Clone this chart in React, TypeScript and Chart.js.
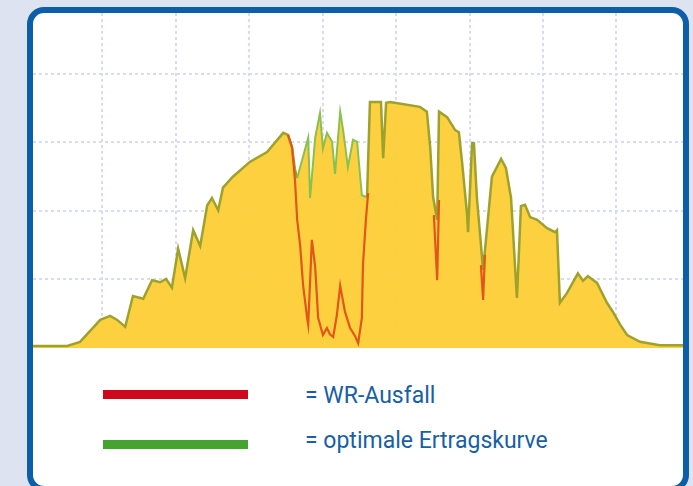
import React, { useEffect, useRef } from "react";
import { Chart, registerables } from "chart.js";

Chart.register(...registerables);

// x: hour of day, y: power in kW
const xGridHours = [6, 8, 10, 12, 14, 16, 18, 20];
const yGridKw = [1, 2, 3, 4];

const optimalCurve: [number, number][] = [
  [4.12, 0.03], [5.05, 0.03], [5.40, 0.09], [5.95, 0.41], [6.22, 0.47], [6.41, 0.41],
  [6.63, 0.31], [6.84, 0.76], [7.12, 0.72], [7.36, 0.99], [7.58, 0.96], [7.74, 1.01],
  [7.90, 0.88], [8.07, 1.45], [8.26, 1.02], [8.48, 1.72], [8.67, 1.49], [8.86, 2.08],
  [8.99, 2.19], [9.16, 2.01], [9.29, 2.34], [9.56, 2.50], [10.03, 2.72], [10.49, 2.86],
  [10.93, 3.14], [11.06, 3.11], [11.17, 2.93], [11.25, 2.60], [11.31, 2.48], [11.61, 3.07],
  [11.66, 2.19], [11.80, 3.07], [11.93, 3.43], [12.01, 2.91], [12.12, 3.14], [12.26, 3.01],
  [12.34, 2.54], [12.48, 3.45], [12.56, 3.18], [12.69, 2.64], [12.83, 3.04], [12.94, 3.01],
  [13.07, 2.23], [13.21, 2.20], [13.29, 3.59], [13.59, 3.59], [13.65, 2.77], [13.73, 3.58],
  [13.84, 3.59], [14.65, 3.52], [14.84, 3.45], [14.93, 2.93], [15.01, 2.20], [15.12, 1.87],
  [15.17, 3.45], [15.39, 3.37], [15.61, 3.18], [15.71, 3.15], [15.80, 2.70], [15.93, 1.97],
  [15.96, 1.69], [16.07, 2.99], [16.12, 2.99], [16.20, 2.20], [16.37, 1.14], [16.61, 2.50],
  [16.86, 2.76], [16.99, 2.63], [17.13, 2.19], [17.29, 0.73], [17.40, 2.07], [17.51, 2.09],
  [17.65, 1.91], [17.84, 1.87], [18.11, 1.75], [18.33, 1.69], [18.38, 1.72], [18.46, 0.66],
  [18.65, 0.80], [18.95, 1.09], [19.09, 0.98], [19.22, 1.05], [19.47, 0.95], [19.74, 0.66],
  [19.90, 0.53], [20.10, 0.34], [20.29, 0.19], [20.64, 0.09], [21.18, 0.04], [21.81, 0.04],
];

// actual yield during inverter failure (null = gap)
const failureCurve: [number, number | null][] = [
  [11.06, 3.11], [11.17, 2.93], [11.25, 2.45], [11.31, 1.87], [11.39, 1.50], [11.47, 0.92],
  [11.58, 0.44], [11.61, 0.34], [11.71, 1.58], [11.80, 1.18], [11.88, 0.44], [12.01, 0.19],
  [12.12, 0.29], [12.20, 0.20], [12.29, 0.16], [12.39, 0.48], [12.48, 0.91], [12.61, 0.53],
  [12.75, 0.29], [12.88, 0.18], [12.97, 0.07], [13.07, 0.44], [13.10, 1.21], [13.18, 1.87],
  [13.24, 2.26],
  [14.5, null],
  [15.03, 1.94], [15.12, 0.99], [15.17, 2.16],
  [16.0, null],
  [16.31, 1.21], [16.37, 0.70], [16.42, 1.36],
];

const outageStart = 11.3;
const outageEnd = 13.22;

const legendLabels = ["= WR-Ausfall", "= optimale Ertragskurve"];
const legendColors = ["#d0081d", "#47a32f"];

const OLIVE = "#9ea22b";
const LIGHT_GREEN = "#8cc04c";
const FILL = "rgba(253, 206, 54, 0.95)";
const RED = "#e2561a";
const GRID = "#d9dcf0";

const inOutage = (ctx: any) =>
  ctx.p0.parsed.x >= outageStart && ctx.p1.parsed.x <= outageEnd;

export default function App() {
  const canvasRef = useRef<HTMLCanvasElement | null>(null);

  useEffect(() => {
    const canvas = canvasRef.current;
    if (!canvas) return;
    const optimalPoints = optimalCurve.map(([x, y]) => ({ x, y }));
    const chart = new Chart(canvas, {
      type: "line",
      data: {
        datasets: [
          {
            label: "WR-Ausfall",
            data: failureCurve.map(([x, y]) => ({ x, y })),
            borderColor: RED,
            borderWidth: 2.2,
            pointRadius: 0,
            fill: false,
            spanGaps: false,
            tension: 0,
          },
          {
            label: "optimale Ertragskurve",
            data: optimalPoints,
            borderColor: OLIVE,
            borderWidth: 2.5,
            pointRadius: 0,
            fill: false,
            tension: 0,
            segment: {
              borderColor: (ctx: any) => (inOutage(ctx) ? LIGHT_GREEN : OLIVE),
              borderWidth: (ctx: any) => (inOutage(ctx) ? 2 : 2.5),
            },
          },
          {
            label: "Ertrag",
            data: optimalPoints,
            borderWidth: 0,
            borderColor: "rgba(0,0,0,0)",
            backgroundColor: FILL,
            pointRadius: 0,
            fill: "origin",
            tension: 0,
          },
        ],
      },
      options: {
        animation: false,
        responsive: false,
        maintainAspectRatio: false,
        layout: { padding: 0 },
        plugins: {
          legend: { display: false },
          tooltip: { enabled: false },
        },
        scales: {
          x: {
            type: "linear",
            min: 4.12,
            max: 21.81,
            afterBuildTicks: (scale: any) => {
              scale.ticks = xGridHours.map((v) => ({ value: v }));
            },
            ticks: { display: false },
            border: { display: false, dash: [3, 3] },
            grid: { color: GRID, lineWidth: 2, drawTicks: false },
          },
          y: {
            type: "linear",
            min: 0,
            max: 4.89,
            afterBuildTicks: (scale: any) => {
              scale.ticks = yGridKw.map((v) => ({ value: v }));
            },
            ticks: { display: false },
            border: { display: false, dash: [3, 3] },
            grid: { color: GRID, lineWidth: 2, drawTicks: false },
          },
        },
      },
    } as any);
    return () => chart.destroy();
  }, []);

  return (
    <div
      style={{
        position: "fixed",
        left: 0,
        top: 0,
        width: 693,
        height: 486,
        background: "#dde3f0",
        overflow: "hidden",
      }}
    >
      <div
        style={{
          position: "absolute",
          left: 27,
          top: 7,
          width: 662,
          height: 485,
          boxSizing: "border-box",
          border: "6px solid #0d5ea9",
          borderRadius: 17,
          background: "#ffffff",
          overflow: "hidden",
        }}
      >
        <canvas
          ref={canvasRef}
          width={650}
          height={335}
          style={{ position: "absolute", left: 0, top: 0, width: 650, height: 335 }}
        />
      </div>
      {legendLabels.map((label, i) => (
        <React.Fragment key={label}>
          <div
            style={{
              position: "absolute",
              left: 103,
              top: 390 + i * 50,
              width: 145,
              height: 9,
              background: legendColors[i],
            }}
          />
          <div
            style={{
              position: "absolute",
              left: 305,
              top: 384 + i * 45,
              fontFamily: "Roboto, 'Liberation Sans', sans-serif",
              fontSize: 23,
              lineHeight: 1,
              color: "#175fa6",
              whiteSpace: "nowrap",
            }}
          >
            {label}
          </div>
        </React.Fragment>
      ))}
    </div>
  );
}
